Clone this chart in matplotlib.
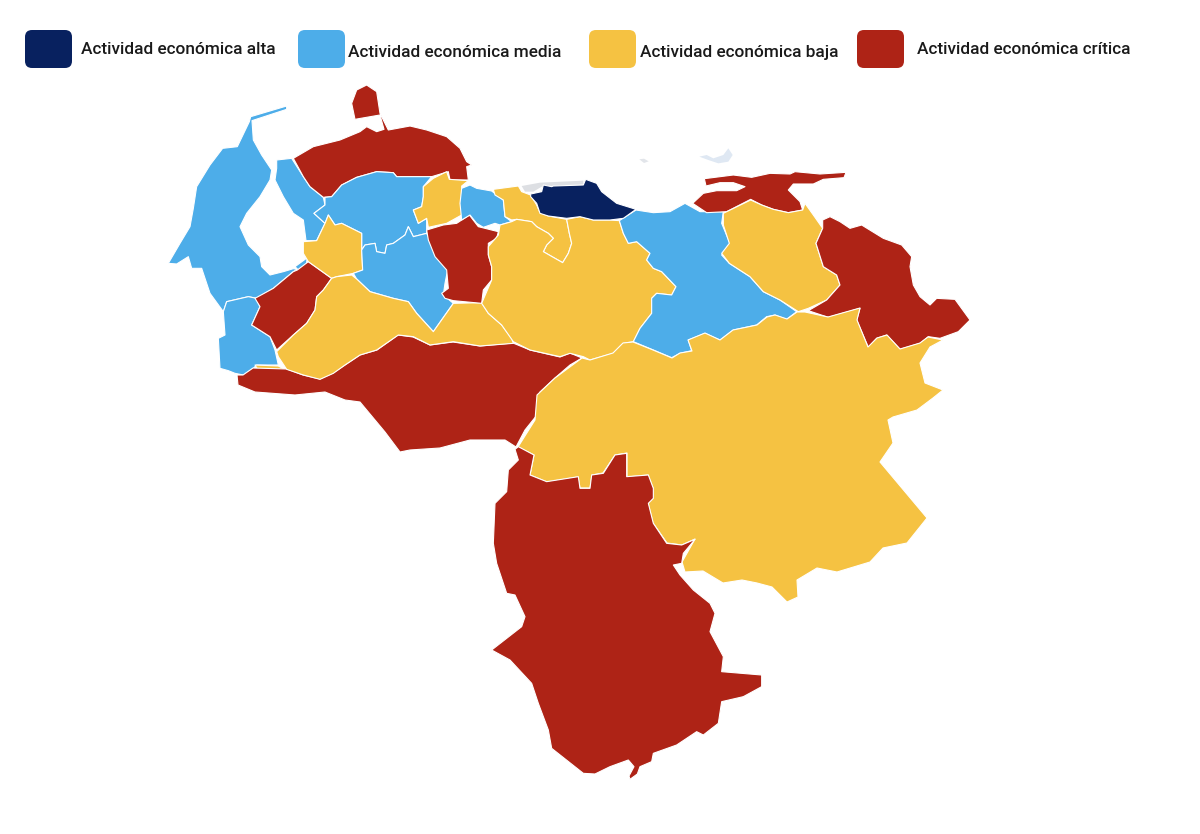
import matplotlib
matplotlib.use("Agg")
import matplotlib.pyplot as plt
from matplotlib.patches import Polygon, FancyBboxPatch

# Legend
categories = ["Actividad económica alta", "Actividad económica media",
              "Actividad económica baja", "Actividad económica crítica"]
colors = ["#08215F", "#4DADE9", "#F5C242", "#AE2316"]
swatch_x = [25, 298, 589, 857]
label_x = [81, 348, 640, 917]
label_y = [49.5, 52, 52, 49.5]

Z1, Z2, Z3, Z5, FULL = (160, 80, 3), (420, 90, 3), (680, 160, 3), (480, 420, 3), (0, 0, 1)

zulia = [(380,78),(272,110),(268,125),(232,200),(188,205),(150,255),(110,320),(100,385),(90,440),(60,490),(25,550),(50,552),(85,530),(95,565),(125,565),(150,640),(190,695),(200,665),(265,650),(290,655),(340,625),(400,575),(412,568),(400,566),(370,575),(330,585),(305,560),(300,530),(265,495),(240,440),(260,400),(300,350),(330,300),(335,270),(305,225),(280,180),(276,122),(380,88)]
zulia_blob = [(405,560),(442,533),(438,558),(415,570)]
zulia_east = [(350,240),(395,235),(430,290),(450,320),(490,352),(495,375),(462,400),(495,430),(470,482),(438,482),(430,420),(400,400),(370,350),(345,300),(350,265)]
falcon = [(400,235),(460,200),(540,180),(600,155),(620,140),(650,155),(672,148),(660,105),(585,118),(575,70),(590,30),(620,15),(650,35),(660,100),(685,150),(750,138),(800,150),(860,170),(900,205),(920,245),(935,255),(920,260),(925,300),(870,300),(865,275),(815,290),(710,290),(700,278),(650,275),(590,292),(545,315),(515,350),(490,352),(450,320),(430,290)]
lara = [(515,350),(545,315),(590,292),(650,275),(700,278),(710,290),(815,290),(790,320),(790,350),(785,380),(760,390),(775,430),(800,415),(800,460),(760,470),(745,440),(735,465),(700,490),(680,495),(675,520),(650,515),(645,490),(615,495),(605,510),(605,460),(545,430),(525,435),(505,405),(495,430),(462,400),(495,375),(495,352)]
yaracuy = [(790,320),(820,295),(860,275),(868,298),(925,302),(905,318),(905,405),(860,430),(805,442),(800,415),(775,430),(760,390),(785,380),(790,350)]
tachira = [(190,695),(200,665),(265,650),(290,655),(300,680),(275,735),(330,770),(345,810),(355,855),(290,855),(280,865),(250,885),(225,880),(205,872),(180,865),(175,775),(195,765)]
sliver = [(285,855),(355,858),(378,870),(340,875),(295,872)]
merida = [(285,655),(340,625),(400,575),(412,570),(445,545),(515,595),(490,630),(470,650),(465,690),(440,730),(400,765),(350,810),(330,770),(275,735),(300,680)]
trujillo = [(430,485),(470,482),(495,430),(505,405),(525,435),(545,430),(605,460),(605,510),(608,570),(580,580),(530,590),(515,595),(445,545),(430,520)]
portuguesa = [(605,510),(615,495),(645,490),(650,515),(675,520),(680,495),(700,490),(735,465),(745,440),(760,470),(800,460),(830,520),(865,560),(855,610),(850,645),(880,670),(820,755),(770,700),(745,665),(700,655),(630,635),(590,597),(580,580),(608,570)]
barinas = [(350,815),(400,765),(440,730),(465,690),(470,650),(490,630),(515,595),(530,590),(575,585),(590,597),(630,635),(700,655),(745,665),(770,700),(820,755),(880,670),(965,668),(985,700),(1025,735),(1055,775),(1060,790),(960,798),(880,785),(810,795),(760,770),(715,765),(650,810),(600,825),(555,855),(520,880),(480,898),(430,885),(380,868),(355,830)]
apure = [(237,375),(243,375),(253,368),(287,369),(303,375),(320,379),(333,373),(345,365),(360,355),(377,350),(398,335),(413,337),(430,345),(453,342),(480,346),(513,343),(530,350),(560,357),(570,353),(582,358),(570,365),(555,378),(540,392),(537,415),(525,430),(516,447),(505,440),(470,440),(440,448),(410,450),(400,452),(385,432),(360,402),(345,400),(325,392),(295,395),(255,392),(238,385)]
cojedes_red = [(20,420),(70,405),(110,400),(148,375),(175,410),(235,425),(230,445),(205,460),(205,495),(215,530),(215,570),(190,600),(185,640),(100,632),(75,625),(65,610),(85,595),(80,540),(45,500),(25,450)]
carabobo = [(125,295),(150,285),(170,295),(215,303),(250,330),(255,380),(275,395),(240,405),(225,400),(190,412),(170,400),(150,375),(125,390),(120,340)]
grey_strip = [(305,288),(360,278),(490,272),(490,284),(395,290),(365,290),(340,305),(315,305)]
miranda = [(332,312),(365,305),(370,285),(395,290),(400,288),(490,285),(497,268),(530,280),(545,305),(590,340),(648,358),(610,385),(570,390),(520,390),(480,380),(440,385),(385,378),(360,370),(350,340),(332,320)]
aragua = [(220,298),(295,288),(305,305),(332,315),(350,345),(360,368),(385,378),(440,388),(448,430),(455,460),(445,490),(428,518),(405,505),(370,485),(380,465),(400,445),(385,430),(350,410),(335,395),(290,388),(275,390),(255,380),(250,330),(225,315)]
guarico = [(205,470),(235,435),(240,405),(275,395),(290,388),(335,395),(350,410),(385,430),(400,445),(380,465),(370,485),(405,505),(428,518),(445,490),(455,460),(448,430),(440,388),(480,380),(520,390),(570,390),(598,392),(610,430),(625,460),(650,455),(690,490),(680,510),(700,535),(725,545),(768,590),(755,615),(710,610),(695,625),(695,670),(660,715),(640,755),(610,760),(580,790),(510,810),(490,800),(450,790),(420,800),(330,780),(280,755),(245,705),(205,670),(185,640),(215,570),(215,530),(205,495)]
anzoategui = [(598,392),(648,360),(700,368),(750,365),(795,340),(840,365),(910,365),(905,400),(930,460),(905,495),(928,520),(990,560),(1030,605),(1080,630),(1130,665),(1100,688),(1065,675),(1040,680),(1010,705),(940,720),(900,750),(855,730),(805,750),(815,782),(780,790),(755,803),(700,780),(640,755),(660,715),(695,670),(695,625),(710,610),(755,615),(768,590),(725,545),(700,535),(680,510),(690,490),(650,455),(625,460),(610,430)]
sucre = [(38,130),(70,100),(110,92),(170,92),(195,80),(160,68),(120,68),(78,78),(73,56),(160,45),(215,52),(270,40),(330,42),(345,35),(420,42),(498,37),(492,53),(430,58),(400,72),(340,72),(325,90),(360,125),(368,150),(325,158),(280,148),(245,135),(212,118),(140,155),(80,158)]
monagas = [(130,160),(212,120),(245,135),(280,148),(325,158),(368,150),(375,130),(400,165),(428,205),(408,250),(430,320),(470,345),(480,375),(440,420),(385,445),(355,455),(300,420),(250,395),(210,350),(148,310),(125,280),(148,250),(130,195)]
delta = [(428,180),(450,170),(480,185),(510,205),(545,195),(610,235),(665,255),(695,290),(690,320),(700,375),(720,410),(750,435),(770,415),(825,418),(870,480),(835,515),(780,535),(745,530),(720,550),(660,568),(620,525),(590,535),(565,562),(530,480),(540,445),(445,472),(385,452),(440,420),(480,375),(470,345),(430,320),(408,250),(428,205)]
bolivar = [(582,358),(590,360),(613,353),(623,343),(633,342),(653,350),(672,358),(680,353),(692,351),(688,340),(705,333),(720,340),(733,330),(757,325),(767,317),(775,315),(787,319),(797,312),(805,312),(828,317),(860,308),(857,320),(868,347),(877,338),(887,335),(900,349),(920,343),(928,337),(943,340),(930,347),(920,363),(925,383),(943,390),(933,398),(917,410),(893,417),(888,420),(893,443),(880,462),(927,518),(907,543),(883,548),(870,562),(837,572),(817,568),(797,580),(798,597),(787,602),(772,587),(757,583),(742,580),(723,583),(703,571),(685,572),(682,562),(695,539),(682,545),(667,543),(653,523),(648,503),(653,498),(653,488),(648,475),(627,477),(627,453),(615,455),(603,473),(592,475),(590,488),(580,488),(578,477),(547,482),(530,475),(534,455),(518,447),(535,420),(537,395),(555,378)]
amazonas = [(105,88),(115,80),(162,105),(150,165),(200,185),(295,170),(300,205),(330,205),(335,165),(370,160),(405,105),(440,100),(440,170),(505,165),(520,205),(520,235),(505,250),(520,310),(560,370),(605,375),(645,358),(610,400),(605,430),(580,435),(600,465),(640,510),(690,550),(705,580),(690,635),(730,710),(725,755),(845,765),(845,800),(790,830),(725,845),(715,910),(670,945),(650,935),(590,975),(520,1000),(515,1025),(480,1040),(472,1062),(450,1078),(447,1068),(462,1040),(445,1020),(390,1040),(345,1062),(310,1060),(215,985),(205,930),(175,850),(155,790),(90,720),(35,690),(125,620),(135,590),(105,525),(80,520),(50,430),(40,370),(45,250),(80,215),(85,150),(115,120)]
margarita = [(838,200),(860,195),(880,205),(910,195),(925,175),(938,195),(925,215),(895,220),(865,210)]
tortuga = [(658,208),(672,206),(686,214),(672,219)]

C_ALTA, C_MEDIA, C_BAJA, C_CRIT = colors
regions = [
    (zulia, Z1, C_MEDIA), (zulia_blob, Z1, C_MEDIA), (zulia_east, Z1, C_MEDIA),
    (falcon, Z1, C_CRIT), (lara, Z1, C_MEDIA), (yaracuy, Z1, C_BAJA),
    (tachira, Z1, C_MEDIA), (sliver, Z1, C_BAJA), (merida, Z1, C_CRIT),
    (trujillo, Z1, C_BAJA), (portuguesa, Z1, C_MEDIA), (apure, FULL, C_CRIT),
    (barinas, Z1, C_BAJA), (cojedes_red, Z2, C_CRIT), (carabobo, Z2, C_MEDIA),
    (aragua, Z2, C_BAJA), (guarico, Z2, C_BAJA),
    (anzoategui, Z2, C_MEDIA), (sucre, Z3, C_CRIT), (monagas, Z3, C_BAJA),
    (delta, Z3, C_CRIT), (bolivar, FULL, C_BAJA), (amazonas, Z5, C_CRIT),
    (miranda, Z2, C_ALTA),
]

def to_px(points, origin):
    ox, oy, s = origin
    return [(ox + x / s, oy + y / s) for x, y in points]

fig = plt.figure(figsize=(12, 8.34), dpi=100, facecolor="white")
ax = fig.add_axes([0, 0, 1, 1])
ax.set_xlim(0, 1200)
ax.set_ylim(834, 0)
ax.axis("off")

ax.add_patch(Polygon(to_px(margarita, Z2), closed=True, fc="#DFE8F3", ec="none", zorder=1))
ax.add_patch(Polygon(to_px(tortuga, Z2), closed=True, fc="#E2E5EA", ec="none", zorder=1))
ax.add_patch(Polygon(to_px(grey_strip, Z2), closed=True, fc="#DDDFE3", ec="none", zorder=1))

for pts, origin, col in regions:
    ax.add_patch(Polygon(to_px(pts, origin), closed=True, fc=col, ec="white",
                         lw=0.8, joinstyle="round", zorder=2))

for name, col, sx, lx, ly in zip(categories, colors, swatch_x, label_x, label_y):
    ax.add_patch(FancyBboxPatch((sx + 6, 36), 35, 26, boxstyle="round,pad=6,rounding_size=7",
                                fc=col, ec="none", zorder=3))
    ax.text(lx, ly, name, family="Roboto", fontsize=12.45, fontweight=500, color="#1A1A1A",
            va="center", ha="left", zorder=3)

fig.savefig("out.png", dpi=100)
